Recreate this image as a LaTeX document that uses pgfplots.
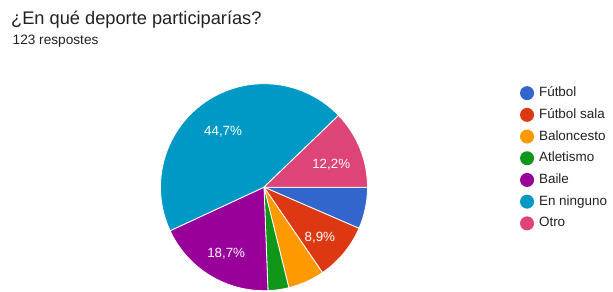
\documentclass[border=0pt]{standalone}
\usepackage{pgfplots}
\pgfplotsset{compat=1.18}
\usepackage{pgfplotstable}
\usepackage{fontspec}
\setmainfont{Liberation Sans}
\definecolor{c0}{HTML}{3366CC}
\definecolor{c1}{HTML}{DC3912}
\definecolor{c2}{HTML}{FF9900}
\definecolor{c3}{HTML}{109618}
\definecolor{c4}{HTML}{990099}
\definecolor{c5}{HTML}{0099C6}
\definecolor{c6}{HTML}{DD4477}
\definecolor{textgray}{HTML}{202124}
\pgfplotstableread{
idx value
0 8
1 11
2 7
3 4
4 23
5 55
6 15
}\pietable
\begin{document}
\begin{tikzpicture}
\node[anchor=base west, inner sep=0, text=textgray, font=\fontsize{18.3}{20}\selectfont] at (11bp,267bp) {¿En qué deporte participarías?};
\node[anchor=base west, inner sep=0, text=textgray, font=\fontsize{13.7}{16}\selectfont] at (12.5bp,247.7bp) {123 respostes};
\begin{axis}[at={(264bp,104.8bp)}, anchor=center, hide axis,
  x=103.5bp, y=103.5bp, xmin=-1, xmax=1, ymin=-1, ymax=1, clip=false,
  legend cell align=left,
  legend image code/.code={\fill (7bp,0bp) circle (7bp);},
  legend style={at={(1.736,0.9915)}, anchor=north west, draw=none, fill=none,
    inner sep=0pt, row sep=6.7bp, column sep=4bp,
    font=\fontsize{13.5}{16}\selectfont, text=textgray,
    nodes={inner sep=1bp, text height=10bp, text depth=3bp}},
]
\xdef\cum{0}
\pgfplotsinvokeforeach{0,...,6}{
  \pgfplotstablegetelem{#1}{value}\of\pietable
  \edef\pv{\pgfplotsretval}
  \pgfmathsetmacro\sa{-(\cum/123)*360}
  \pgfmathsetmacro\ea{-((\cum+\pv)/123)*360}
  \pgfmathsetmacro\ma{(\sa+\ea)/2}
  \pgfmathsetmacro\pct{(\pv/123)*100}
  \edef\temp{\noexpand\fill[c#1, draw=white, line width=0.8bp, line join=round] (axis cs:0,0) -- (axis cs:{cos(\sa)},{sin(\sa)}) arc[start angle=\sa, end angle=\ea, radius=103.5bp] -- cycle;}
  \temp
  \ifdim\pct pt>8pt
    \pgfmathprintnumberto[fixed, precision=1, fixed zerofill, use comma, assume math mode=true]{\pct}{\pstr}
    \edef\temp{\noexpand\node[text=white, yshift=-4.5bp, font=\noexpand\fontsize{13.4}{15}\noexpand\selectfont] at (axis cs:{0.70*cos(\ma)},{0.70*sin(\ma)}) {\unexpanded\expandafter{\pstr}\noexpand\%};}
    \temp
  \fi
  \pgfmathsetmacro\newcum{\cum+\pv}
  \xdef\cum{\newcum}
}
\addlegendimage{fill=c0, draw=none}\addlegendentry{Fútbol}
\addlegendimage{fill=c1, draw=none}\addlegendentry{Fútbol sala}
\addlegendimage{fill=c2, draw=none}\addlegendentry{Baloncesto}
\addlegendimage{fill=c3, draw=none}\addlegendentry{Atletismo}
\addlegendimage{fill=c4, draw=none}\addlegendentry{Baile}
\addlegendimage{fill=c5, draw=none}\addlegendentry{En ninguno}
\addlegendimage{fill=c6, draw=none}\addlegendentry{Otro}
\end{axis}
\pgfresetboundingbox
\useasboundingbox (0,0) rectangle (613bp,292bp);
\end{tikzpicture}
\end{document}
